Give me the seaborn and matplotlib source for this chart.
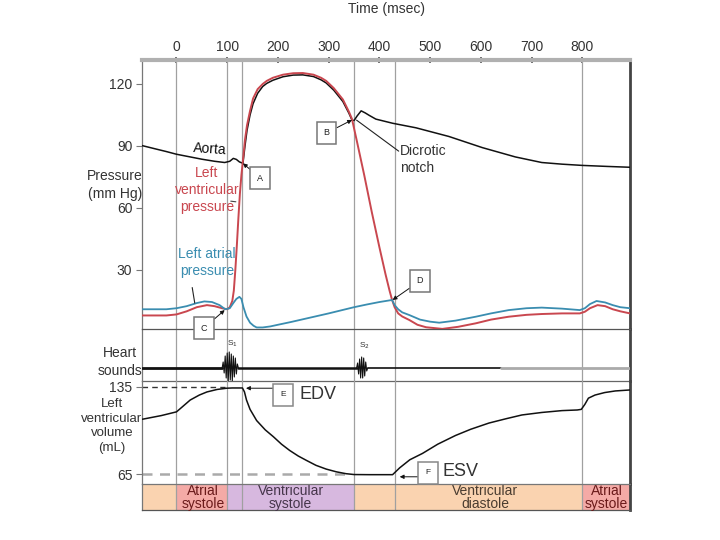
import matplotlib
matplotlib.use("Agg")
import matplotlib.pyplot as plt
import seaborn as sns

# ---- values (time in msec) ----
aorta_t = [-68, -40, -20, 0, 25, 50, 75, 95, 105, 112, 118, 124, 131, 135, 139, 145, 151, 160, 170, 178,
           190, 210, 230, 249, 270, 285, 295, 310, 328, 340, 346, 350, 356, 364, 372, 380, 393, 426, 472,
           537, 603, 668, 720, 760, 800, 850, 894]
aorta_p = [90.2, 88.5, 87.3, 86, 84.8, 83.6, 82.6, 82, 82.6, 84, 83.5, 82.3, 81.6, 90, 97.5, 105, 110.5, 115.5,
           118.8, 120.3, 121.8, 123.5, 124.3, 124.4, 123.6, 122, 120.5, 117, 111.5, 105.8, 102.5, 102.3, 104.5,
           107, 106, 104.8, 103, 101, 98.8, 94.6, 89.2, 84.7, 82, 81.2, 80.6, 80.1, 79.7]

lvp_t = [-68, -40, -20, 0, 20, 40, 60, 75, 90, 100, 105, 110, 113, 116, 119, 122, 125, 128, 131, 135, 139, 145,
         151, 160, 170, 178, 190, 210, 230, 249, 270, 285, 295, 310, 328, 340, 346, 355, 370, 385, 400, 412, 420,
         425, 430, 437, 445, 459, 475, 492, 524, 555, 590, 620, 655, 690, 720, 760, 795, 805, 815, 830, 845, 860,
         875, 894]
lvp_p = [8, 8, 8, 8.5, 10, 12, 13, 12.5, 11.5, 11, 12, 15, 20, 30, 42, 55, 67, 76, 83, 93, 100, 107, 113, 117.5,
         120, 121.5, 123, 124.5, 125.2, 125.3, 124.5, 123, 121.5, 118, 112.5, 106.5, 103, 93, 76, 58, 41, 28, 20,
         15.5, 12, 9, 7.5, 5.8, 3.5, 2.3, 1.5, 2.5, 4.2, 6, 7.4, 8.3, 8.7, 9, 9, 9.8, 11.5, 13, 12.5, 11, 10, 9]

lap_t = [-68, -40, -20, 0, 20, 40, 55, 70, 85, 96, 105, 112, 118, 124, 128, 132, 138, 145, 152, 158, 170, 185,
         200, 225, 250, 275, 300, 325, 350, 375, 400, 425, 430, 437, 445, 459, 480, 500, 518, 550, 590, 620, 655,
         690, 720, 760, 795, 805, 815, 828, 845, 860, 875, 894]
lap_p = [11, 11, 11, 11.5, 12.5, 14, 14.8, 14.5, 13, 11, 11.5, 14, 16, 17, 16, 12, 7.5, 4.5, 3, 2.2, 2.2, 2.7,
         3.5, 4.8, 6.2, 7.6, 9, 10.5, 12, 13.3, 14.5, 15.5, 13, 11, 9.5, 8.2, 6, 5, 4.5, 5.5, 7.4, 9, 10.6, 11.5,
         11.8, 11.3, 10.6, 11.5, 13.5, 15, 14.3, 13, 12, 11.5]

vol_t = [-68, -30, -5, 0, 10, 27, 45, 60, 80, 99, 110, 130, 134, 138, 145, 158, 175, 191, 207, 223, 240, 256,
         275, 295, 315, 334, 350, 380, 410, 426, 440, 460, 485, 515, 550, 580, 616, 650, 681, 720, 760, 790, 798,
         805, 812, 825, 844, 865, 894]
vol_ml = [109, 112, 114.5, 115, 118.5, 124.5, 128.5, 131, 133, 134, 134.2, 134.2, 131, 124.5, 117, 108, 100.5,
          95, 89, 84, 79.5, 76, 72, 69, 66.8, 65.3, 64.6, 64.5, 64.5, 64.5, 70, 76.5, 81.6, 89, 96, 101, 106,
          109.5, 112.5, 114.5, 116, 116.5, 117, 121, 126, 128.5, 130.5, 131.8, 132.6]

# heart sounds (amplitude in arbitrary units)
s1_t = [90, 92, 94, 96, 98, 100, 102, 104, 106, 108, 110, 112, 114, 116, 118, 120, 122]
s1_a = [0, 6, -5, 12, -10, 15, -13, 16, -12, 14, -13, 12, -9, 10, -6, 4, 0]
s2_t = [355, 357, 359, 361, 363, 365, 367, 369, 371, 373, 375, 377]
s2_a = [0, 5, -6, 9, -10, 11, -10, 10, -8, 6, -3, 0]
base_t = [[-68, 90], [122, 355], [377, 640], [640, 894]]

events = [0, 100, 130, 350, 430, 800]
time_ticks = [0, 100, 200, 300, 400, 500, 600, 700, 800]
p_ticks = [30, 60, 90, 120]
edv, esv = 135, 65

phase_edges = [-68, 0, 100, 350, 800, 894]
phase_cols = ["#fad3b0", "#f4aaa6", "#d7b8df", "#fad3b0", "#f4aaa6"]
phase_names = ["Atrial\nsystole", "Ventricular\nsystole", "Ventricular\ndiastole", "Atrial\nsystole"]
phase_mid = [52, 225, 608, 848]
phase_txt = ["#6a1a1a", "#45354a", "#4a3c30", "#6a1a1a"]

sns.set_style("white")
plt.rcParams['font.family'] = ['Liberation Sans', 'DejaVu Sans']

RED = "#c9474f"
BLUE = "#3a8db0"
GRID = "#a0a0a0"
TXT = "#333333"
LS = 1.3

fig = plt.figure(figsize=(7.2, 5.4), dpi=100)
gs = fig.add_gridspec(4, 1, height_ratios=[269, 52, 103, 26], left=142/720, right=630/720,
                      top=1-60/540, bottom=1-510/540, hspace=0)
ax_p = fig.add_subplot(gs[0])
ax_s = fig.add_subplot(gs[1], sharex=ax_p)
ax_v = fig.add_subplot(gs[2], sharex=ax_p)
ax_ph = fig.add_subplot(gs[3], sharex=ax_p)
ax_p.set_zorder(3)
ax_v.set_zorder(2)
for ax in (ax_p, ax_s, ax_v, ax_ph):
    ax.set_facecolor("none")
    for t in events:
        ax.axvline(t, color=GRID, lw=0.9, zorder=1)
    for side in ax.spines:
        ax.spines[side].set_visible(True)
        ax.spines[side].set_color("#777")
        ax.spines[side].set_linewidth(0.9)
    ax.spines["right"].set_color("#444")
    ax.spines["right"].set_linewidth(2)

ax_p.set_xlim(-68, 894)

# pressure panel
sns.lineplot(x=aorta_t, y=aorta_p, ax=ax_p, color="#111", lw=1.1, estimator=None, sort=False, zorder=3)
sns.lineplot(x=lvp_t, y=lvp_p, ax=ax_p, color=RED, lw=1.4, estimator=None, sort=False, zorder=4)
sns.lineplot(x=lap_t, y=lap_p, ax=ax_p, color=BLUE, lw=1.3, estimator=None, sort=False, zorder=4)
ax_p.set_ylim(1.45, 131.6)
ax_p.set_yticks(p_ticks)
ax_p.spines["top"].set_color("#b0b0b0")
ax_p.spines["top"].set_linewidth(3)
ax_p.spines["bottom"].set_color("#555")
ax_p.xaxis.tick_top()
ax_p.xaxis.set_label_position("top")
ax_p.set_xticks(time_ticks)
ax_p.set_xlabel("Time (msec)", fontsize=10, color=TXT, labelpad=19)
ax_p.tick_params(axis="x", top=True, bottom=False, direction="inout", length=5, width=1.2,
                 color="#555", labelsize=10, labelcolor=TXT, pad=2)
ax_p.tick_params(axis="y", left=True, length=4, color="#777", labelsize=10, labelcolor=TXT, pad=3)

ax_p.text(66, 88.3, "Aorta", fontsize=10, color="#111", ha="center", va="center", rotation=-4, zorder=6)
ax_p.text(60, 68.7, "Left\nventricular\npressure", fontsize=10, color=RED, ha="center", va="center",
          linespacing=LS, zorder=6)
ax_p.plot([107, 117], [63.3, 63.0], color="#444", lw=0.8, zorder=6)
ax_p.text(60, 33.6, "Left atrial\npressure", fontsize=10, color=BLUE, ha="center", va="center",
          linespacing=LS, zorder=6)
ax_p.plot([31, 36], [21.5, 14], color="#222", lw=0.8, zorder=6)
ax_p.text(441, 83.5, "Dicrotic\nnotch", fontsize=10, color=TXT, ha="left", va="center",
          linespacing=LS, zorder=6)
ax_p.plot([355, 438], [102.5, 87.5], color="#222", lw=0.8, zorder=6)


def box(ax, letter, xy, xytext):
    ax.annotate(letter, xy=xy, xytext=xytext, fontsize=6.5, ha="center", va="center", color="#222",
                bbox=dict(boxstyle="square,pad=0.75", fc="white", ec="#777", lw=1.1),
                arrowprops=dict(arrowstyle="-|>", color="#111", lw=0.7, mutation_scale=6,
                                shrinkA=0, shrinkB=0),
                annotation_clip=False, zorder=8)


box(ax_p, "A", (131, 81.6), (165, 74.5))
box(ax_p, "B", (346, 102.6), (296, 96.3))
box(ax_p, "C", (95, 10.6), (54, 1.9))
box(ax_p, "D", (426, 15.5), (480, 24.7))

# heart sounds panel
ax_s.set_ylim(-13, 39)
ax_s.set_yticks([])
ax_s.spines["top"].set_visible(False)
ax_s.spines["bottom"].set_color("#666")
base_w = [2.0, 1.8, 1.2, 2.0]
base_c = ["#111", "#111", "#111", "#aaa"]
for seg, w, c in zip(base_t, base_w, base_c):
    sns.lineplot(x=seg, y=[0, 0], ax=ax_s, color=c, lw=w, estimator=None, zorder=3)
sns.lineplot(x=s1_t, y=s1_a, ax=ax_s, color="#111", lw=0.8, estimator=None, sort=False, zorder=3)
sns.lineplot(x=s2_t, y=s2_a, ax=ax_s, color="#111", lw=0.8, estimator=None, sort=False, zorder=3)
ax_s.text(110, 24, "S$_1$", fontsize=6, color=TXT, ha="center", va="center")
ax_s.text(370, 22, "S$_2$", fontsize=6, color=TXT, ha="center", va="center")

# volume panel
ax_v.set_ylim(57, 139.8)
ax_v.set_yticks([esv, edv])
ax_v.spines["top"].set_visible(False)
ax_v.tick_params(axis="y", left=True, length=4, color="#777", labelsize=10, labelcolor=TXT, pad=3)
ax_v.hlines(edv, -68, 96, colors="#333", linestyles=(0, (4, 3)), lw=1.0, zorder=2)
ax_v.hlines(esv, -68, 335, colors="#aaa", linestyles=(0, (4, 3)), lw=1.8, zorder=2)
sns.lineplot(x=vol_t, y=vol_ml, ax=ax_v, color="#111", lw=1.1, estimator=None, sort=False, zorder=3)
ax_v.annotate("", xy=(137, 134), xytext=(190, 134),
              arrowprops=dict(arrowstyle="-|>", color="#111", lw=0.7, mutation_scale=6, shrinkA=0, shrinkB=0))
ax_v.text(210, 128.6, "E", fontsize=6, ha="center", va="center", color="#222", zorder=8,
          bbox=dict(boxstyle="square,pad=0.9", fc="white", ec="#888", lw=1.1))
ax_v.text(242, 128.6, "EDV", fontsize=13, ha="left", va="center", color=TXT)
ax_v.annotate("", xy=(440, 62.8), xytext=(477, 62.8),
              arrowprops=dict(arrowstyle="-|>", color="#111", lw=0.7, mutation_scale=6, shrinkA=0, shrinkB=0))
ax_v.text(496, 66.2, "F", fontsize=6, ha="center", va="center", color="#222", zorder=8,
          bbox=dict(boxstyle="square,pad=0.9", fc="white", ec="#888", lw=1.1))
ax_v.text(525, 66.8, "ESV", fontsize=13, ha="left", va="center", color=TXT)

# phase bar
ax_ph.set_ylim(0, 1)
ax_ph.set_yticks([])
ax_ph.spines["top"].set_visible(False)
ax_ph.spines["bottom"].set_color("#555")
for a, b, c in zip(phase_edges[:-1], phase_edges[1:], phase_cols):
    ax_ph.axvspan(a, b, color=c, lw=0, zorder=0)
for name, m, c in zip(phase_names, phase_mid, phase_txt):
    ax_ph.text(m, 0.48, name, fontsize=10, color=c, ha="center", va="center", linespacing=0.95)

for ax in (ax_s, ax_v, ax_ph):
    ax.tick_params(axis="x", bottom=False, top=False, labelbottom=False)
ax_p.tick_params(axis="x", labelbottom=False)

# side labels
fig.text(115/720, 1-185/540, "Pressure\n(mm Hg)", fontsize=10, color=TXT, ha="center", va="center",
         linespacing=LS)
fig.text(120/720, 1-362/540, "Heart\nsounds", fontsize=10, color=TXT, ha="center", va="center",
         linespacing=LS)
fig.text(112/720, 1-426/540, "Left\nventricular\nvolume\n(mL)", fontsize=9.5, color=TXT, ha="center",
         va="center", linespacing=1.3)

fig.savefig("out.png", dpi=100)
